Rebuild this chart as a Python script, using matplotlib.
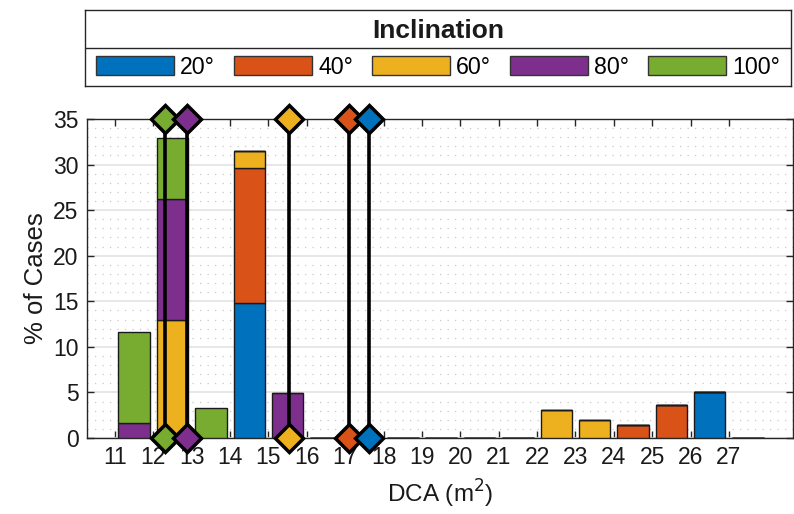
import matplotlib.pyplot as plt
from matplotlib.patches import Patch
from matplotlib.ticker import MultipleLocator
import numpy as np

plt.rcParams['font.family'] = ['Liberation Sans', 'DejaVu Sans']

# DCA bins (left edges, m^2) and share of cases per inclination
bins = np.arange(11, 28)
pct_20 = [0, 0, 0, 14.8, 0, 0, 0, 0, 0, 0, 0, 0, 0, 0, 0, 5.1, 0]
pct_40 = [0, 0, 0, 14.8, 0, 0, 0, 0, 0, 0, 0, 0, 0, 1.45, 3.65, 0, 0]
pct_60 = [0, 12.9, 0, 1.9, 0, 0, 0, 0, 0, 0, 0, 3.1, 1.95, 0, 0, 0, 0]
pct_80 = [1.6, 13.35, 0, 0, 4.95, 0, 0, 0, 0, 0, 0, 0, 0, 0, 0, 0, 0]
pct_100 = [10.05, 6.65, 3.3, 0, 0, 0, 0, 0, 0, 0, 0, 0, 0, 0, 0, 0, 0]

# mean DCA per inclination
mean_dca = [17.61, 17.09, 15.54, 12.87, 12.31]

labels = ['20°', '40°', '60°', '80°', '100°']
colors = ['#0072BD', '#D95319', '#EDB120', '#7E2F8E', '#77AC30']
series = [pct_20, pct_40, pct_60, pct_80, pct_100]

fig = plt.figure(figsize=(7.94, 5.14), dpi=100)
ax = fig.add_axes([87 / 794, 76 / 514, 706 / 794, 319 / 514])

bottom = np.zeros(len(bins))
for vals, col in zip(series, colors):
    vals = np.array(vals, dtype=float)
    ax.bar(bins + 0.5, vals, width=0.82, bottom=bottom, color=col,
           edgecolor='#1a1a1a', linewidth=1.0, zorder=3)
    bottom += vals

ymax = 35
for m, col in reversed(list(zip(mean_dca, colors))):
    ax.plot([m, m], [0, ymax], color='black', lw=2.6, marker='D',
            markersize=14, markerfacecolor=col, markeredgecolor='black',
            markeredgewidth=2.5, clip_on=False, zorder=5)

ax.set_xlim(10.27, 28.67)
ax.set_ylim(0, ymax)
ax.set_xticks(bins)
ax.set_yticks(np.arange(0, 36, 5))
ax.yaxis.set_minor_locator(MultipleLocator(1))

ax.grid(True, which='major', axis='y', color='#e3e3e3', lw=1.2, zorder=0)
ax.grid(True, which='minor', axis='y', color='#c8c8c8', lw=0.9,
        linestyle=(0, (1, 5)), zorder=0)

ax.tick_params(which='major', direction='in', length=5, width=1,
               top=True, right=True, labelsize=16.5, pad=6, colors='#262626',
               labelcolor='#1a1a1a')
ax.tick_params(which='minor', left=False, right=False)
for s in ax.spines.values():
    s.set_color('#262626')
    s.set_linewidth(1.0)

ax.set_xlabel('DCA (m$^2$)', fontsize=17.5, color='#1a1a1a', labelpad=6)
ax.set_ylabel('% of Cases', fontsize=18.5, color='#1a1a1a', labelpad=4)

# legend panel with title row above the entries
lax = fig.add_axes([85 / 794, 428 / 514, 706 / 794, 76 / 514])
lax.set_xticks([])
lax.set_yticks([])
lax.set_xlim(0, 1)
lax.set_ylim(0, 1)
for s in lax.spines.values():
    s.set_color('#262626')
    s.set_linewidth(1.0)
lax.axhline(0.5, color='#262626', lw=1.0)
lax.text(0.5, 0.73, 'Inclination', ha='center', va='center',
         fontsize=19, fontweight='bold', color='#1a1a1a')
handles = [Patch(facecolor=c, edgecolor='#333333', linewidth=1.0) for c in colors]
lax.legend(handles, labels, ncol=5, loc='center', bbox_to_anchor=(0.5, 0.25),
           frameon=False, fontsize=16.7, handlelength=3.36, handleheight=0.86,
           handletextpad=0.26, columnspacing=0.82, borderaxespad=0,
           borderpad=0)

fig.savefig('out.png', dpi=100)
